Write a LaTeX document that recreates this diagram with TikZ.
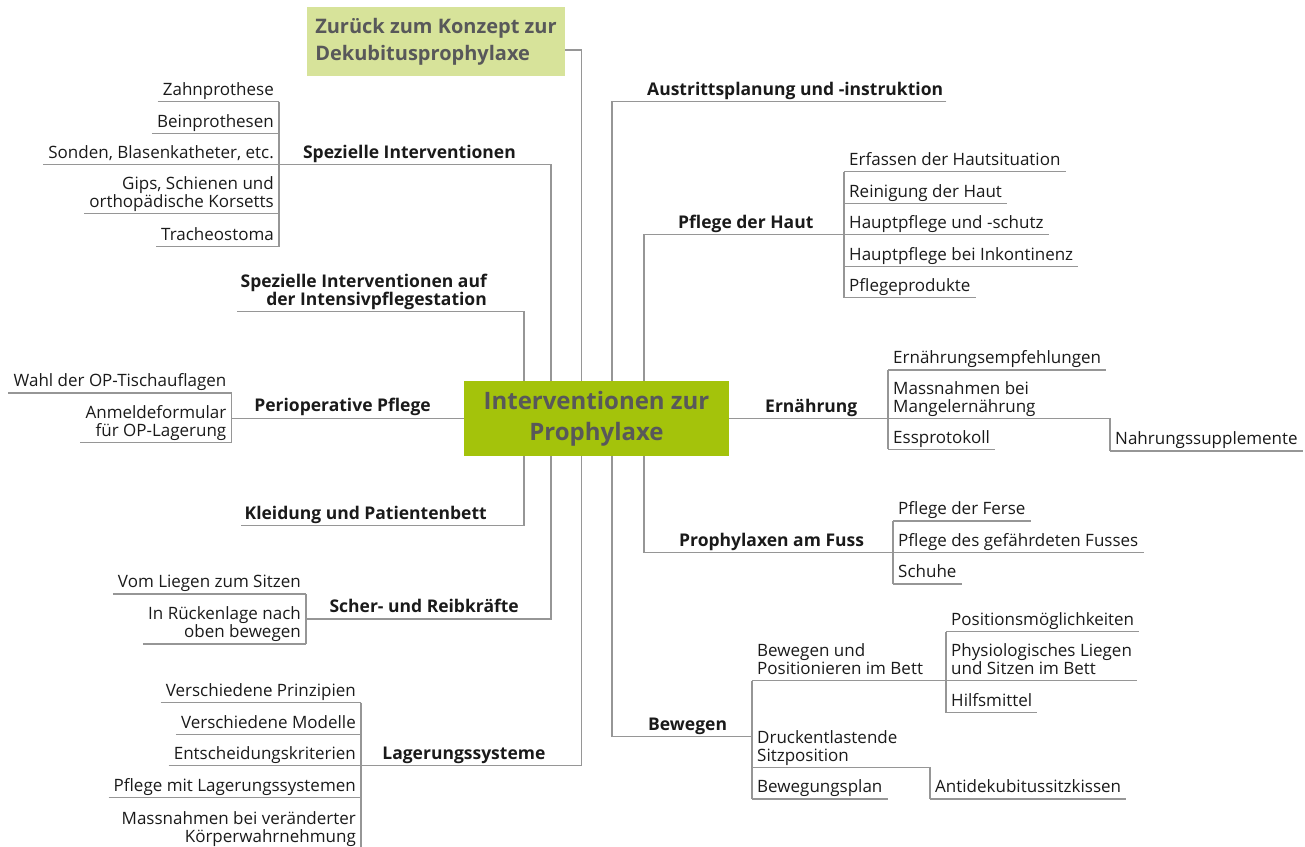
\documentclass[tikz,border=0pt]{standalone}
\usepackage{fontspec}
\setmainfont{Open Sans}
\definecolor{verde}{RGB}{164,195,11}
\definecolor{verdeclaro}{RGB}{215,227,154}
\definecolor{linea}{RGB}{150,150,150}
\definecolor{texto}{RGB}{26,26,26}
\definecolor{titulo}{RGB}{88,88,90}
\begin{document}
\begin{tikzpicture}[x=1pt,y=-1pt,
    ln/.style={draw=linea,line width=1.2pt},
    sub/.style={font=\fontsize{17}{18}\selectfont,text=texto,inner xsep=5pt,inner ysep=2pt,text depth=4pt},
    subL/.style={sub,anchor=south east,align=right},
    subR/.style={sub,anchor=south west,align=left},
    rama/.style={font=\fontsize{17.5}{18}\selectfont\bfseries,text=texto,inner xsep=3pt,inner ysep=2pt,text depth=4pt},
    ramaL/.style={rama,anchor=south east,align=right},
    ramaR/.style={rama,anchor=south west,align=left}]
\useasboundingbox (0,0) rectangle (1305,846);
\clip (0,0) rectangle (1305,846);

%Troncos
\coordinate (tA) at (524,0);
\coordinate (tB) at (551,0);
\coordinate (tC) at (581.5,0);
\coordinate (tD) at (612,0);
\coordinate (tE) at (644,0);

%Nodo central
\node[fill=verde,minimum width=265pt,minimum height=75pt,inner sep=0,text=titulo,align=center,
    font=\fontsize{24}{31}\selectfont\bfseries] (C) at (596.5,418.5) {Interventionen zur\\Prophylaxe};
\node[fill=verdeclaro,minimum width=258pt,minimum height=69pt,inner sep=0,text=titulo,align=left,
    font=\fontsize{20}{27}\selectfont\bfseries] (Z) at (436,41.5) {Zurück zum Konzept zur\\Dekubitusprophylaxe};

%Ramas izquierda
\node[ramaL] (si) at (519,164.3) {Spezielle Interventionen};
\node[ramaL] (sia) at (490,311.7) {Spezielle Interventionen auf\\der Intensivpflegestation};
\node[ramaL] (pp) at (434,417.7) {Perioperative Pflege};
\node[ramaL] (kl) at (490,525.7) {Kleidung und Patientenbett};
\node[ramaL] (sr) at (522,619) {Scher- und Reibkräfte};
\node[ramaL] (ls) at (548.6,765.7) {Lagerungssysteme};

%Ramas derecha
\node[ramaR] (au) at (644,101.7) {Austrittsplanung und -instruktion};
\node[ramaR] (ph) at (675,234.3) {Pflege der Haut};
\node[ramaR] (er) at (762,418.3) {Ernährung};
\node[ramaR] (pf) at (676,552.3) {Prophylaxen am Fuss};
\node[ramaR] (bw) at (645,736.7) {Bewegen};

%Hojas izquierda
\node[subL] (zp) at (279,101.7) {Zahnprothese};
\node[subL] (bp) at (279,133.3) {Beinprothesen};
\node[subL] (so) at (279,164.3) {Sonden, Blasenkatheter, etc.};
\node[subL] (gi) at (279,213.7) {Gips, Schienen und\\orthopädische Korsetts};
\node[subL] (tr) at (279,246.7) {Tracheostoma};
\node[subL] (wa) at (231.5,393) {Wahl der OP-Tischauflagen};
\node[subL] (an) at (231.5,442.7) {Anmeldeformular\\für OP-Lagerung};
\node[subL] (vl) at (306,594) {Vom Liegen zum Sitzen};
\node[subL] (ir) at (306,644) {In Rückenlage nach\\oben bewegen};
\node[subL] (vp) at (361,702.7) {Verschiedene Prinzipien};
\node[subL] (vm) at (361,734.3) {Verschiedene Modelle};
\node[subL] (ek) at (361,765.7) {Entscheidungskriterien};
\node[subL] (pl) at (361,797.3) {Pflege mit Lagerungssystemen};
\node[subL] (mk) at (361,849) {Massnahmen bei veränderter\\Körperwahrnehmung};

%Hojas derecha
\node[subR] (eh) at (844,171.7) {Erfassen der Hautsituation};
\node[subR] (rh) at (844,203.3) {Reinigung der Haut};
\node[subR] (hs) at (844,234.3) {Hauptpflege und -schutz};
\node[subR] (hi) at (844,266.3) {Hauptpflege bei Inkontinenz};
\node[subR] (pr) at (844,297.7) {Pflegeprodukte};
\node[subR] (ee) at (888,370) {Ernährungsempfehlungen};
\node[subR] (mm) at (888,418.3) {Massnahmen bei\\Mangelernährung};
\node[subR] (es) at (888,449.3) {Essprotokoll};
\node[subR] (ns) at (1110,451) {Nahrungssupplemente};
\node[subR] (fe) at (893,521) {Pflege der Ferse};
\node[subR] (gf) at (893,552.3) {Pflege des gefährdeten Fusses};
\node[subR] (sc) at (893,584) {Schuhe};
\node[subR] (bb) at (752,680.7) {Bewegen und\\Positionieren im Bett};
\node[subR] (ds) at (752,767.7) {Druckentlastende\\Sitzposition};
\node[subR] (bwp) at (752,799) {Bewegungsplan};
\node[subR] (pm) at (946,631.7) {Positionsmöglichkeiten};
\node[subR] (pls) at (946,680.7) {Physiologisches Liegen\\und Sitzen im Bett};
\node[subR] (hm) at (946,712.7) {Hilfsmittel};
\node[subR] (ak) at (930,799) {Antidekubitussitzkissen};

%Subrayados
\foreach \n in {zp,bp,so,gi,tr,wa,an,vl,ir,vp,vm,ek,pl,mk,eh,rh,hs,hi,pr,ee,mm,es,ns,fe,gf,sc,bb,ds,bwp,pm,pls,hm,ak}{
    \draw[ln] (\n.south west) -- (\n.south east);
}

%Conexiones izquierda
\draw[ln] ([yshift=-8.5pt]Z.east) -| (C.north -| tC);
\draw[ln] (zp.south east) -- (tr.south east);
\draw[ln] (so.south east) -| (C.north -| tB);
\draw[ln] (sia.south west) -| (C.north -| tA);
\draw[ln] (wa.south east) -- (an.south east);
\draw[ln] (wa.south east |- C.west) -- (C.west);
\draw[ln] (kl.south west) -| (C.south -| tA);
\draw[ln] (vl.south east) -- (ir.south east);
\draw[ln] (vl.south east |- sr.south) -| (C.south -| tB);
\draw[ln] (vp.south east) -- (mk.south east);
\draw[ln] (ek.south east) -| (C.south -| tC);

%Conexiones derecha
\draw[ln] (au.south east) -| (C.north -| tD);
\draw[ln] (eh.south west) -- (pr.south west);
\draw[ln] (hs.south west) -| (C.north -| tE);
\draw[ln] (C.east) -- (ee.south west |- C.east);
\draw[ln] (ee.south west) -- (es.south west);
\draw[ln] (mm.south west) -| (ns.south west);
\draw[ln] (fe.south west) -- (sc.south west);
\draw[ln] (gf.south west) -| (C.south -| tE);
\draw[ln] (bb.south west) -- (bwp.south west);
\draw[ln] (bw.south -| bb.south west) -| (C.south -| tD);
\draw[ln] (pm.south west) -- (hm.south west);
\draw[ln] (bb.south west) -- (pls.south west);
\draw[ln] (ds.south west) -| (ak.south west);
\end{tikzpicture}
\end{document}
